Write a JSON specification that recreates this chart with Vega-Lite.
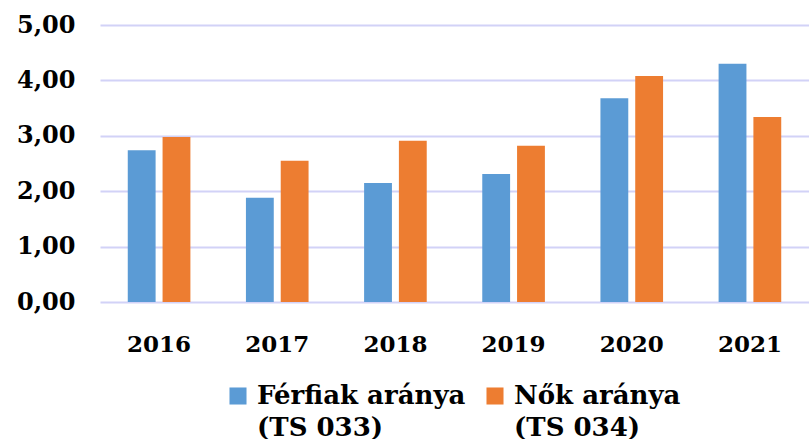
{
  "$schema": "https://vega.github.io/schema/vega-lite/v6.json",
  "autosize": "none",
  "width": 709,
  "height": 277,
  "padding": {"left": 100, "top": 25, "right": 0, "bottom": 137},
  "background": "white",
  "data": {
    "values": [
      {"year": "2016", "series": "Férfiak aránya|(TS 033)", "value": 2.74},
      {"year": "2016", "series": "Nők aránya|(TS 034)", "value": 2.98},
      {"year": "2017", "series": "Férfiak aránya|(TS 033)", "value": 1.88},
      {"year": "2017", "series": "Nők aránya|(TS 034)", "value": 2.55},
      {"year": "2018", "series": "Férfiak aránya|(TS 033)", "value": 2.15},
      {"year": "2018", "series": "Nők aránya|(TS 034)", "value": 2.91},
      {"year": "2019", "series": "Férfiak aránya|(TS 033)", "value": 2.31},
      {"year": "2019", "series": "Nők aránya|(TS 034)", "value": 2.82},
      {"year": "2020", "series": "Férfiak aránya|(TS 033)", "value": 3.68},
      {"year": "2020", "series": "Nők aránya|(TS 034)", "value": 4.08},
      {"year": "2021", "series": "Férfiak aránya|(TS 033)", "value": 4.30},
      {"year": "2021", "series": "Nők aránya|(TS 034)", "value": 3.34}
    ]
  },
  "mark": {"type": "bar"},
  "encoding": {
    "x": {
      "field": "year", "type": "nominal",
      "scale": {"paddingInner": 0.47, "paddingOuter": 0.235},
      "axis": {
        "title": null, "labelAngle": 0, "domain": false, "ticks": false,
        "labelFont": "DejaVu Serif", "labelFontWeight": "bold", "labelFontSize": 23,
        "labelColor": "#000000", "labelPadding": 31
      }
    },
    "xOffset": {"field": "series", "type": "nominal", "scale": {"paddingInner": 0.2}},
    "y": {
      "field": "value", "type": "quantitative",
      "scale": {"domain": [0, 5]},
      "axis": {
        "title": null, "values": [0, 1, 2, 3, 4, 5],
        "format": ".2f", "labelExpr": "replace(datum.label, '.', ',')",
        "labelOverlap": false, "labelBound": false, "labelFlush": false,
        "domain": false, "ticks": false,
        "grid": true, "gridColor": "#d2d2f7", "gridWidth": 2,
        "labelFont": "DejaVu Serif", "labelFontWeight": "bold", "labelFontSize": 24,
        "labelColor": "#000000", "labelPadding": 25
      }
    },
    "color": {
      "field": "series", "type": "nominal",
      "scale": {"range": ["#5B9BD5", "#ED7D31"]},
      "legend": {
        "title": null, "orient": "none", "direction": "horizontal",
        "legendX": 125, "legendY": 358,
        "labelExpr": "split(datum.label, '|')",
        "symbolType": "square", "symbolSize": 290, "symbolStrokeWidth": 0,
        "labelFont": "DejaVu Serif", "labelFontWeight": "bold", "labelFontSize": 26,
        "labelColor": "#000000", "labelLimit": 400, "labelOffset": 6,
        "columnPadding": 16, "padding": 0, "labelBaseline": "middle",
        "encode": {"labels": {"update": {"lineHeight": {"value": 32}}}}
      }
    }
  },
  "config": {"view": {"stroke": null}}
}
